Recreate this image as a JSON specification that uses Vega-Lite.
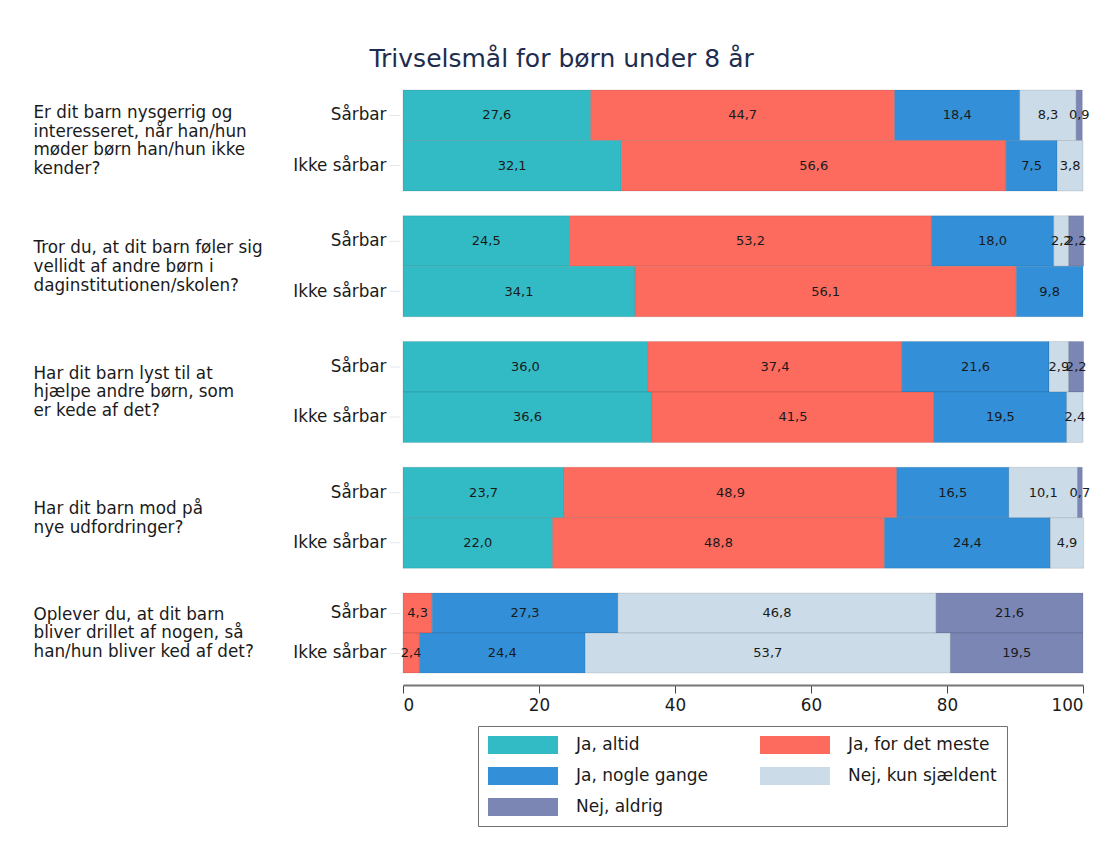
{
  "$schema": "https://vega.github.io/schema/vega-lite/v6.json",
  "padding": {"left": 33, "top": 46, "right": 10, "bottom": 10},
  "background": "#ffffff",
  "title": {"text": "Trivselsmål for børn under 8 år", "fontSize": 25, "font": "DejaVu Sans", "fontWeight": "normal", "color": "#1e2d4f", "anchor": "middle", "frame": "bounds", "offset": 18},
  "config": {
    "font": "DejaVu Sans",
    "view": {"stroke": null},
    "axis": {"grid": false},
    "locale": {"number": {"decimal": ",", "thousands": ".", "grouping": [3], "currency": ["", " kr"]}}
  },
  "datasets": {
    "d": [
      {"q": 1, "g": "Sårbar", "svar": "Ja, altid", "o": 1, "pct": 27.6},
      {"q": 1, "g": "Sårbar", "svar": "Ja, for det meste", "o": 2, "pct": 44.7},
      {"q": 1, "g": "Sårbar", "svar": "Ja, nogle gange", "o": 3, "pct": 18.4},
      {"q": 1, "g": "Sårbar", "svar": "Nej, kun sjældent", "o": 4, "pct": 8.3},
      {"q": 1, "g": "Sårbar", "svar": "Nej, aldrig", "o": 5, "pct": 0.9},
      {"q": 1, "g": "Ikke sårbar", "svar": "Ja, altid", "o": 1, "pct": 32.1},
      {"q": 1, "g": "Ikke sårbar", "svar": "Ja, for det meste", "o": 2, "pct": 56.6},
      {"q": 1, "g": "Ikke sårbar", "svar": "Ja, nogle gange", "o": 3, "pct": 7.5},
      {"q": 1, "g": "Ikke sårbar", "svar": "Nej, kun sjældent", "o": 4, "pct": 3.8},
      {"q": 2, "g": "Sårbar", "svar": "Ja, altid", "o": 1, "pct": 24.5},
      {"q": 2, "g": "Sårbar", "svar": "Ja, for det meste", "o": 2, "pct": 53.2},
      {"q": 2, "g": "Sårbar", "svar": "Ja, nogle gange", "o": 3, "pct": 18.0},
      {"q": 2, "g": "Sårbar", "svar": "Nej, kun sjældent", "o": 4, "pct": 2.2},
      {"q": 2, "g": "Sårbar", "svar": "Nej, aldrig", "o": 5, "pct": 2.2},
      {"q": 2, "g": "Ikke sårbar", "svar": "Ja, altid", "o": 1, "pct": 34.1},
      {"q": 2, "g": "Ikke sårbar", "svar": "Ja, for det meste", "o": 2, "pct": 56.1},
      {"q": 2, "g": "Ikke sårbar", "svar": "Ja, nogle gange", "o": 3, "pct": 9.8},
      {"q": 3, "g": "Sårbar", "svar": "Ja, altid", "o": 1, "pct": 36.0},
      {"q": 3, "g": "Sårbar", "svar": "Ja, for det meste", "o": 2, "pct": 37.4},
      {"q": 3, "g": "Sårbar", "svar": "Ja, nogle gange", "o": 3, "pct": 21.6},
      {"q": 3, "g": "Sårbar", "svar": "Nej, kun sjældent", "o": 4, "pct": 2.9},
      {"q": 3, "g": "Sårbar", "svar": "Nej, aldrig", "o": 5, "pct": 2.2},
      {"q": 3, "g": "Ikke sårbar", "svar": "Ja, altid", "o": 1, "pct": 36.6},
      {"q": 3, "g": "Ikke sårbar", "svar": "Ja, for det meste", "o": 2, "pct": 41.5},
      {"q": 3, "g": "Ikke sårbar", "svar": "Ja, nogle gange", "o": 3, "pct": 19.5},
      {"q": 3, "g": "Ikke sårbar", "svar": "Nej, kun sjældent", "o": 4, "pct": 2.4},
      {"q": 4, "g": "Sårbar", "svar": "Ja, altid", "o": 1, "pct": 23.7},
      {"q": 4, "g": "Sårbar", "svar": "Ja, for det meste", "o": 2, "pct": 48.9},
      {"q": 4, "g": "Sårbar", "svar": "Ja, nogle gange", "o": 3, "pct": 16.5},
      {"q": 4, "g": "Sårbar", "svar": "Nej, kun sjældent", "o": 4, "pct": 10.1},
      {"q": 4, "g": "Sårbar", "svar": "Nej, aldrig", "o": 5, "pct": 0.7},
      {"q": 4, "g": "Ikke sårbar", "svar": "Ja, altid", "o": 1, "pct": 22.0},
      {"q": 4, "g": "Ikke sårbar", "svar": "Ja, for det meste", "o": 2, "pct": 48.8},
      {"q": 4, "g": "Ikke sårbar", "svar": "Ja, nogle gange", "o": 3, "pct": 24.4},
      {"q": 4, "g": "Ikke sårbar", "svar": "Nej, kun sjældent", "o": 4, "pct": 4.9},
      {"q": 5, "g": "Sårbar", "svar": "Ja, for det meste", "o": 2, "pct": 4.3},
      {"q": 5, "g": "Sårbar", "svar": "Ja, nogle gange", "o": 3, "pct": 27.3},
      {"q": 5, "g": "Sårbar", "svar": "Nej, kun sjældent", "o": 4, "pct": 46.8},
      {"q": 5, "g": "Sårbar", "svar": "Nej, aldrig", "o": 5, "pct": 21.6},
      {"q": 5, "g": "Ikke sårbar", "svar": "Ja, for det meste", "o": 2, "pct": 2.4},
      {"q": 5, "g": "Ikke sårbar", "svar": "Ja, nogle gange", "o": 3, "pct": 24.4},
      {"q": 5, "g": "Ikke sårbar", "svar": "Nej, kun sjældent", "o": 4, "pct": 53.7},
      {"q": 5, "g": "Ikke sårbar", "svar": "Nej, aldrig", "o": 5, "pct": 19.5}
    ]
  },
  "data": {"name": "d"},
  "spacing": 22.75,
  "resolve": {"scale": {"x": "shared", "color": "shared"}},
  "vconcat": [
    {
      "width": 680, "height": 101,
      "transform": [
        {"filter": "datum.q == 1"},
        {"stack": "pct", "groupby": ["g"], "sort": [{"field": "o"}], "as": ["x0", "x1"]},
        {"calculate": "(datum.x0 + datum.x1) / 2", "as": "xm"}
      ],
      "encoding": {
        "y": {"field": "g", "type": "nominal", "sort": ["Sårbar", "Ikke sårbar"], "scale": {"paddingInner": 0, "paddingOuter": 0},
          "axis": {"title": ["Er dit barn nysgerrig og", "interesseret, når han/hun", "møder børn han/hun ikke", "kender?"], "titleAngle": 0, "titleAlign": "left", "titleBaseline": "middle", "titleX": -367, "titleY": 22.3, "titleFontSize": 16.8, "titleFontWeight": "normal", "titleColor": "#1a1a1a", "titleLineHeight": 18.8, "labelFontSize": 16.8, "labelColor": "#1a1a1a", "labelPadding": 3, "tickSize": 11, "tickColor": "#e4e8ec", "domain": false, "offset": 3}}
      },
      "layer": [
        {"mark": {"type": "bar", "stroke": "#000000", "strokeOpacity": 0.1, "strokeWidth": 1},
          "encoding": {
            "x": {"field": "x0", "type": "quantitative", "scale": {"domain": [0, 100], "nice": false}, "axis": null},
            "x2": {"field": "x1"},
            "color": {"field": "svar", "type": "nominal",
              "scale": {"domain": ["Ja, altid", "Ja, for det meste", "Ja, nogle gange", "Nej, kun sjældent", "Nej, aldrig"], "range": ["#33bbc5", "#fd6b5f", "#3390d8", "#cbdbe8", "#7b86b5"]},
              "legend": {"orient": "none", "legendX": 75, "legendY": 636, "columns": 2, "direction": "horizontal", "title": null, "symbolType": "M-1,-1H6.78V1H-1Z", "symbolSize": 324, "symbolStrokeWidth": 0, "symbolOpacity": 1, "labelFontSize": 17, "labelColor": "#1a1a1a", "labelOffset": 70, "rowPadding": 13, "columnPadding": 51, "padding": 10, "strokeColor": "#707070", "fillColor": "#ffffff", "labelLimit": 300}}
          }},
        {"mark": {"type": "text", "fontSize": 13, "color": "#1a1a1a", "baseline": "middle"},
          "encoding": {"x": {"field": "xm", "type": "quantitative"}, "text": {"field": "pct", "type": "quantitative", "format": ".1f"}}}
      ]
    },
    {
      "width": 680, "height": 101,
      "transform": [
        {"filter": "datum.q == 2"},
        {"stack": "pct", "groupby": ["g"], "sort": [{"field": "o"}], "as": ["x0", "x1"]},
        {"calculate": "(datum.x0 + datum.x1) / 2", "as": "xm"}
      ],
      "encoding": {
        "y": {"field": "g", "type": "nominal", "sort": ["Sårbar", "Ikke sårbar"], "scale": {"paddingInner": 0, "paddingOuter": 0},
          "axis": {"title": ["Tror du, at dit barn føler sig", "vellidt af andre børn i", "daginstitutionen/skolen?"], "titleAngle": 0, "titleAlign": "left", "titleBaseline": "middle", "titleX": -367, "titleY": 31.7, "titleFontSize": 16.8, "titleFontWeight": "normal", "titleColor": "#1a1a1a", "titleLineHeight": 18.8, "labelFontSize": 16.8, "labelColor": "#1a1a1a", "labelPadding": 3, "tickSize": 11, "tickColor": "#e4e8ec", "domain": false, "offset": 3}}
      },
      "layer": [
        {"mark": {"type": "bar", "stroke": "#000000", "strokeOpacity": 0.1, "strokeWidth": 1},
          "encoding": {
            "x": {"field": "x0", "type": "quantitative", "scale": {"domain": [0, 100], "nice": false}, "axis": null},
            "x2": {"field": "x1"},
            "color": {"field": "svar", "type": "nominal"}
          }},
        {"mark": {"type": "text", "fontSize": 13, "color": "#1a1a1a", "baseline": "middle"},
          "encoding": {"x": {"field": "xm", "type": "quantitative"}, "text": {"field": "pct", "type": "quantitative", "format": ".1f"}}}
      ]
    },
    {
      "width": 680, "height": 101,
      "transform": [
        {"filter": "datum.q == 3"},
        {"stack": "pct", "groupby": ["g"], "sort": [{"field": "o"}], "as": ["x0", "x1"]},
        {"calculate": "(datum.x0 + datum.x1) / 2", "as": "xm"}
      ],
      "encoding": {
        "y": {"field": "g", "type": "nominal", "sort": ["Sårbar", "Ikke sårbar"], "scale": {"paddingInner": 0, "paddingOuter": 0},
          "axis": {"title": ["Har dit barn lyst til at", "hjælpe andre børn, som", "er kede af det?"], "titleAngle": 0, "titleAlign": "left", "titleBaseline": "middle", "titleX": -367, "titleY": 31.7, "titleFontSize": 16.8, "titleFontWeight": "normal", "titleColor": "#1a1a1a", "titleLineHeight": 18.8, "labelFontSize": 16.8, "labelColor": "#1a1a1a", "labelPadding": 3, "tickSize": 11, "tickColor": "#e4e8ec", "domain": false, "offset": 3}}
      },
      "layer": [
        {"mark": {"type": "bar", "stroke": "#000000", "strokeOpacity": 0.1, "strokeWidth": 1},
          "encoding": {
            "x": {"field": "x0", "type": "quantitative", "scale": {"domain": [0, 100], "nice": false}, "axis": null},
            "x2": {"field": "x1"},
            "color": {"field": "svar", "type": "nominal"}
          }},
        {"mark": {"type": "text", "fontSize": 13, "color": "#1a1a1a", "baseline": "middle"},
          "encoding": {"x": {"field": "xm", "type": "quantitative"}, "text": {"field": "pct", "type": "quantitative", "format": ".1f"}}}
      ]
    },
    {
      "width": 680, "height": 101,
      "transform": [
        {"filter": "datum.q == 4"},
        {"stack": "pct", "groupby": ["g"], "sort": [{"field": "o"}], "as": ["x0", "x1"]},
        {"calculate": "(datum.x0 + datum.x1) / 2", "as": "xm"}
      ],
      "encoding": {
        "y": {"field": "g", "type": "nominal", "sort": ["Sårbar", "Ikke sårbar"], "scale": {"paddingInner": 0, "paddingOuter": 0},
          "axis": {"title": ["Har dit barn mod på", "nye udfordringer?"], "titleAngle": 0, "titleAlign": "left", "titleBaseline": "middle", "titleX": -367, "titleY": 41.1, "titleFontSize": 16.8, "titleFontWeight": "normal", "titleColor": "#1a1a1a", "titleLineHeight": 18.8, "labelFontSize": 16.8, "labelColor": "#1a1a1a", "labelPadding": 3, "tickSize": 11, "tickColor": "#e4e8ec", "domain": false, "offset": 3}}
      },
      "layer": [
        {"mark": {"type": "bar", "stroke": "#000000", "strokeOpacity": 0.1, "strokeWidth": 1},
          "encoding": {
            "x": {"field": "x0", "type": "quantitative", "scale": {"domain": [0, 100], "nice": false}, "axis": null},
            "x2": {"field": "x1"},
            "color": {"field": "svar", "type": "nominal"}
          }},
        {"mark": {"type": "text", "fontSize": 13, "color": "#1a1a1a", "baseline": "middle"},
          "encoding": {"x": {"field": "xm", "type": "quantitative"}, "text": {"field": "pct", "type": "quantitative", "format": ".1f"}}}
      ]
    },
    {
      "width": 680, "height": 80,
      "transform": [
        {"filter": "datum.q == 5"},
        {"stack": "pct", "groupby": ["g"], "sort": [{"field": "o"}], "as": ["x0", "x1"]},
        {"calculate": "(datum.x0 + datum.x1) / 2", "as": "xm"}
      ],
      "encoding": {
        "y": {"field": "g", "type": "nominal", "sort": ["Sårbar", "Ikke sårbar"], "scale": {"paddingInner": 0, "paddingOuter": 0},
          "axis": {"title": ["Oplever du, at dit barn", "bliver drillet af nogen, så", "han/hun bliver ked af det?"], "titleAngle": 0, "titleAlign": "left", "titleBaseline": "middle", "titleX": -367, "titleY": 21.2, "titleFontSize": 16.8, "titleFontWeight": "normal", "titleColor": "#1a1a1a", "titleLineHeight": 18.8, "labelFontSize": 16.8, "labelColor": "#1a1a1a", "labelPadding": 3, "tickSize": 11, "tickColor": "#e4e8ec", "domain": false, "offset": 3}}
      },
      "layer": [
        {"mark": {"type": "bar", "stroke": "#000000", "strokeOpacity": 0.1, "strokeWidth": 1},
          "encoding": {
            "x": {"field": "x0", "type": "quantitative", "scale": {"domain": [0, 100], "nice": false},
              "axis": {"title": null, "values": [0, 20, 40, 60, 80, 100], "format": "d", "offset": 12, "labelFontSize": 16.8, "labelColor": "#1a1a1a", "tickSize": 8, "tickColor": "#444444", "domainColor": "#777777", "domainWidth": 2, "labelPadding": 4}},
            "x2": {"field": "x1"},
            "color": {"field": "svar", "type": "nominal"}
          }},
        {"mark": {"type": "text", "fontSize": 13, "color": "#1a1a1a", "baseline": "middle"},
          "encoding": {"x": {"field": "xm", "type": "quantitative"}, "text": {"field": "pct", "type": "quantitative", "format": ".1f"}}}
      ]
    }
  ]
}
